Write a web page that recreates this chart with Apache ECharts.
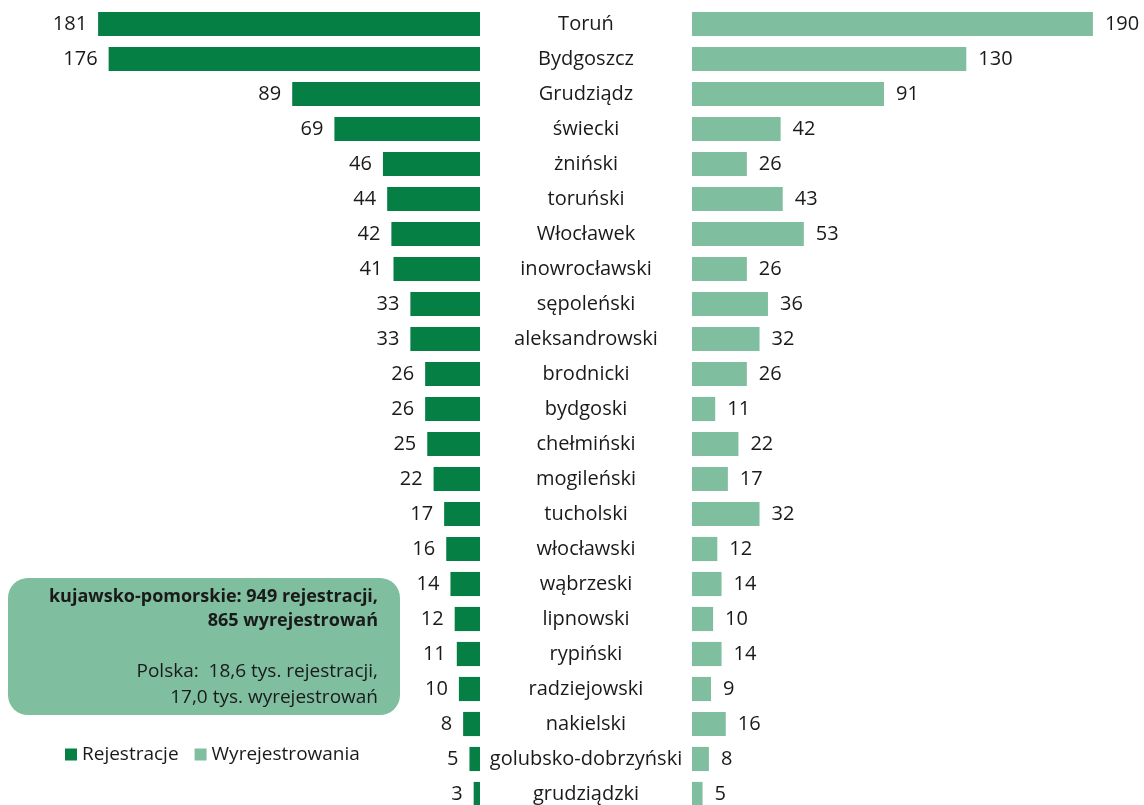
<!DOCTYPE html>
<html>
<head>
<meta charset="utf-8">
<script src="https://cdn.jsdelivr.net/npm/echarts@6/dist/echarts.min.js"></script>
<style>
  html, body { margin: 0; padding: 0; background: #fff; }
  #chart { width: 1144px; height: 805px; }
</style>
</head>
<body>
<div id="chart"></div>
<script>
const categories = ['Toruń', 'Bydgoszcz', 'Grudziądz', 'świecki', 'żniński', 'toruński', 'Włocławek',
  'inowrocławski', 'sępoleński', 'aleksandrowski', 'brodnicki', 'bydgoski', 'chełmiński', 'mogileński',
  'tucholski', 'włocławski', 'wąbrzeski', 'lipnowski', 'rypiński', 'radziejowski', 'nakielski',
  'golubsko-dobrzyński', 'grudziądzki'];
const rejestracje = [181, 176, 89, 69, 46, 44, 42, 41, 33, 33, 26, 26, 25, 22, 17, 16, 14, 12, 11, 10, 8, 5, 3];
const wyrejestrowania = [190, 130, 91, 42, 26, 43, 53, 26, 36, 32, 26, 11, 22, 17, 32, 12, 14, 10, 14, 9, 16, 8, 5];
const summaryLines = ['kujawsko-pomorskie: 949 rejestracji,', '865 wyrejestrowań',
  'Polska:  18,6 tys. rejestracji,', '17,0 tys. wyrejestrowań'];

const DARK = '#067f45';
const LIGHT = '#7fbe9f';
const INK = '#1a1a1a';
const FONT = 'Open Sans';

const chart = echarts.init(document.getElementById('chart'));

const hiddenX = {
  type: 'value', min: 0, max: 200,
  axisLine: { show: false }, axisTick: { show: false },
  axisLabel: { show: false }, splitLine: { show: false },
};

// linie tekstu w ramce: [y środka, pogrubienie, rozmiar]
const lineLayout = [[597, 'bold', 18], [621, 'bold', 18], [672, 'normal', 19], [698, 'normal', 19]];

chart.setOption({
  animation: false,
  textStyle: { fontFamily: FONT },
  grid: [
    { left: 58, width: 422, top: 6.5, bottom: -6.5, outerBoundsMode: 'none' },
    { left: 692, width: 422, top: 6.5, bottom: -6.5, outerBoundsMode: 'none' },
  ],
  xAxis: [
    Object.assign({ gridIndex: 0, inverse: true }, hiddenX),
    Object.assign({ gridIndex: 1 }, hiddenX),
  ],
  yAxis: [
    {
      gridIndex: 0, type: 'category', data: categories, inverse: true,
      axisLine: { show: false }, axisTick: { show: false }, axisLabel: { show: false },
    },
    {
      gridIndex: 1, type: 'category', data: categories, inverse: true,
      axisLine: { show: false }, axisTick: { show: false },
      axisLabel: {
        align: 'center', margin: 106,
        color: INK, fontSize: 20, fontFamily: FONT,
      },
    },
  ],
  legend: {
    left: 60, top: 740,
    icon: 'rect', itemWidth: 12, itemHeight: 12, itemGap: 16,
    textStyle: { fontSize: 19, color: INK, fontFamily: FONT },
    data: ['Rejestracje', 'Wyrejestrowania'],
  },
  series: [
    {
      name: 'Rejestracje', type: 'bar', xAxisIndex: 0, yAxisIndex: 0,
      data: rejestracje, barCategoryGap: '31%',
      itemStyle: { color: DARK },
      label: { show: true, position: 'left', distance: 11, fontSize: 20, color: INK, fontFamily: FONT },
    },
    {
      name: 'Wyrejestrowania', type: 'bar', xAxisIndex: 1, yAxisIndex: 1,
      data: wyrejestrowania, barCategoryGap: '31%',
      itemStyle: { color: LIGHT },
      label: { show: true, position: 'right', distance: 12, fontSize: 20, color: INK, fontFamily: FONT },
    },
  ],
  graphic: [
    {
      type: 'rect', x: 8, y: 578,
      shape: { width: 392, height: 137, r: 20 },
      style: { fill: LIGHT },
    },
  ].concat(summaryLines.map((t, i) => ({
    type: 'text', x: 378, y: lineLayout[i][0],
    style: {
      text: t, align: 'right', verticalAlign: 'middle',
      fontSize: lineLayout[i][2], fontWeight: lineLayout[i][1],
      fill: INK, fontFamily: FONT,
    },
  }))),
});
</script>
</body>
</html>
